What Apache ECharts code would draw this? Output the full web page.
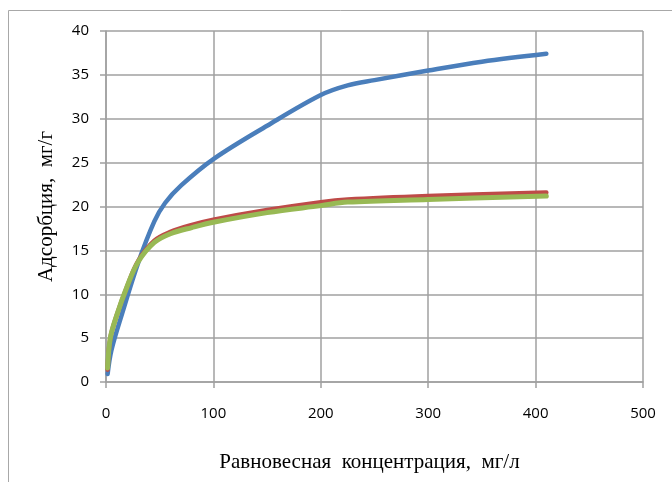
<!DOCTYPE html>
<html>
<head>
<meta charset="utf-8">
<script src="https://cdn.jsdelivr.net/npm/echarts@6/dist/echarts.min.js"></script>
<style>
  html, body { margin: 0; padding: 0; background: #fff; }
  #chart { width: 672px; height: 482px; }
</style>
</head>
<body>
<div id="chart"></div>
<script>
// Adsorption isotherms: equilibrium concentration (mg/l) vs adsorption (mg/g)
const xTitle = 'Равновесная  концентрация,  мг/л';
const yTitle = 'Адсорбция,  мг/г';

const blueX  = [1.5, 5, 15, 30, 45, 55, 70, 100, 150, 200, 225, 250, 300, 350, 410];
const blueY  = [0.9, 3.6, 7.8, 13.6, 18.3, 20.4, 22.4, 25.4, 29.2, 32.7, 33.8, 34.4, 35.5, 36.5, 37.4];

const redX   = [1.5, 4, 10, 20, 30, 45, 60, 80, 100, 150, 200, 225, 300, 410];
const redY   = [1.4, 5.0, 7.6, 11.0, 13.8, 16.1, 17.1, 17.9, 18.5, 19.6, 20.5, 20.8, 21.2, 21.6];

const greenX = [1.5, 4, 10, 20, 30, 45, 60, 80, 100, 150, 200, 225, 300, 410];
const greenY = [1.6, 5.0, 7.6, 11.0, 13.7, 15.9, 16.9, 17.6, 18.2, 19.3, 20.1, 20.5, 20.8, 21.2];

const pairs = (xs, ys) => xs.map((x, i) => [x, ys[i]]);

const chart = echarts.init(document.getElementById('chart'));
const gridColor = '#a0a0a0';

function line(name, xs, ys, color, width) {
  return {
    name, type: 'line', data: pairs(xs, ys), smooth: 0.35,
    showSymbol: false, symbol: 'none',
    lineStyle: { color, width, cap: 'round', join: 'round' },
    itemStyle: { color }
  };
}

chart.setOption({
  animation: false,
  backgroundColor: '#fff',
  graphic: [{
    type: 'rect', shape: { x: 8.5, y: 10.5, width: 700, height: 500 },
    style: { fill: 'none', stroke: '#a8a8a8', lineWidth: 1 }, silent: true, z: -1
  }],
  grid: { left: 106, right: 29, top: 31, bottom: 100 },
  xAxis: {
    type: 'value', min: 0, max: 500, interval: 100,
    name: xTitle, nameLocation: 'middle', nameGap: 70,
    nameTextStyle: { fontFamily: 'Liberation Serif', fontSize: 21, color: '#000', padding: [0, 10, 0, 0] },
    axisLine: { show: true, lineStyle: { color: gridColor, width: 1.5 } },
    axisTick: { show: true, length: 6, lineStyle: { color: gridColor, width: 1.5 } },
    axisLabel: { margin: 24, fontFamily: 'Open Sans', fontSize: 15, color: '#000' },
    splitLine: { show: true, lineStyle: { color: gridColor, width: 1.5 } }
  },
  yAxis: {
    type: 'value', min: 0, max: 40, interval: 5,
    name: yTitle, nameLocation: 'middle', nameGap: 49, nameRotate: 90,
    nameTextStyle: { fontFamily: 'Liberation Serif', fontSize: 21, color: '#000', padding: [0, 0, 0, 0] },
    axisLine: { show: true, lineStyle: { color: gridColor, width: 1.5 } },
    axisTick: { show: true, length: 6, lineStyle: { color: gridColor, width: 1.5 } },
    axisLabel: { margin: 17, fontFamily: 'Open Sans', fontSize: 15, color: '#000' },
    splitLine: { show: true, lineStyle: { color: gridColor, width: 1.5 } }
  },
  series: [
    line('Серия 1', blueX, blueY, '#4a7ebb', 4.5),
    line('Серия 2', redX, redY, '#be4b48', 4.5),
    line('Серия 3', greenX, greenY, '#98b954', 5)
  ]
});
</script>
</body>
</html>
